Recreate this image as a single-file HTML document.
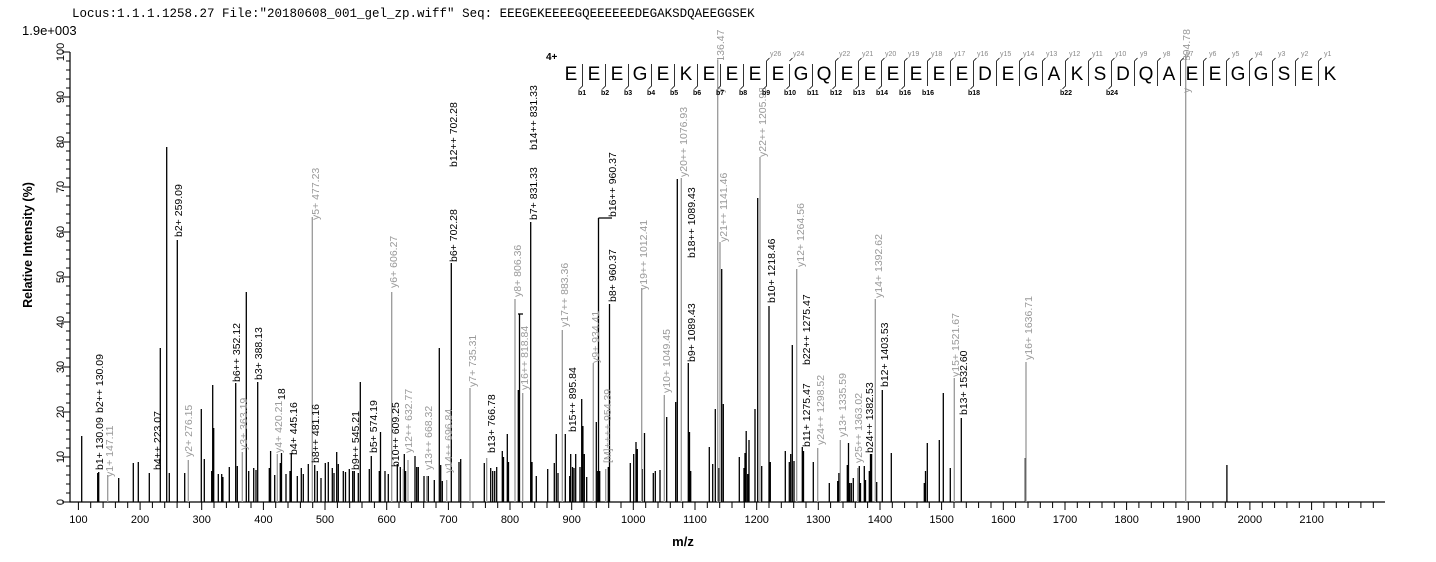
<!DOCTYPE html>
<html><head><meta charset="utf-8"><style>
html,body{margin:0;padding:0;background:#fff;}
svg{display:block;font-family:"Liberation Sans",Arial,sans-serif;}
.lb{font-size:10.5px;fill:#000}
.lg{font-size:10.5px;fill:#999}
.tk{font-size:11px;fill:#000}
.sq{font-size:19px;fill:#000}
.sm{font-size:7px;fill:#000}
.smg{font-size:7px;fill:#888}
</style></head><body>
<svg width="1436" height="562" viewBox="0 0 1436 562" xmlns="http://www.w3.org/2000/svg">
<text x="72" y="17" font-family="Liberation Mono, monospace" font-size="12.5">Locus:1.1.1.1258.27 File:"20180608_001_gel_zp.wiff"   Seq: EEEGEKEEEEGQEEEEEEDEGAKSDQAEEGGSEK</text>
<text x="22" y="35" font-size="13">1.9e+003</text>
<text transform="translate(32,245) rotate(-90)" font-size="12.5" font-weight="bold" text-anchor="middle">Relative   Intensity (%)</text>
<text x="683" y="546" font-size="13" font-weight="bold" text-anchor="middle">m/z</text>

<!-- axes -->
<path d="M70 52V502H1385" stroke="#000" stroke-width="1.2" fill="none"/>
<g stroke="#000" stroke-width="1">
<path d="M62 52H70M62 97H70M62 142H70M62 187H70M62 232H70M62 277H70M62 322H70M62 367H70M62 412H70M62 457H70M62 502H70"/>
<path d="M66 61H70M66 70H70M66 79H70M66 88H70M66 106H70M66 115H70M66 124H70M66 133H70M66 151H70M66 160H70M66 169H70M66 178H70M66 196H70M66 205H70M66 214H70M66 223H70M66 241H70M66 250H70M66 259H70M66 268H70M66 286H70M66 295H70M66 304H70M66 313H70M66 331H70M66 340H70M66 349H70M66 358H70M66 376H70M66 385H70M66 394H70M66 403H70M66 421H70M66 430H70M66 439H70M66 448H70M66 466H70M66 475H70M66 484H70M66 493H70"/>
</g>
<g class="tk" text-anchor="middle">
<text transform="translate(64,52) rotate(-90)">100</text>
<text transform="translate(64,97) rotate(-90)">90</text>
<text transform="translate(64,142) rotate(-90)">80</text>
<text transform="translate(64,187) rotate(-90)">70</text>
<text transform="translate(64,232) rotate(-90)">60</text>
<text transform="translate(64,277) rotate(-90)">50</text>
<text transform="translate(64,322) rotate(-90)">40</text>
<text transform="translate(64,367) rotate(-90)">30</text>
<text transform="translate(64,412) rotate(-90)">20</text>
<text transform="translate(64,457) rotate(-90)">10</text>
<text transform="translate(64,502) rotate(-90)">0</text>
</g>
<g id="xt"></g>
<path stroke="#000" stroke-width="1" d="M78.4 502v8M90.7 502v6M103.1 502v6M115.4 502v6M127.7 502v6M140.1 502v8M152.4 502v6M164.7 502v6M177.1 502v6M189.4 502v6M201.7 502v8M214.0 502v6M226.4 502v6M238.7 502v6M251.0 502v6M263.4 502v8M275.7 502v6M288.0 502v6M300.4 502v6M312.7 502v6M325.0 502v8M337.4 502v6M349.7 502v6M362.0 502v6M374.4 502v6M386.7 502v8M399.0 502v6M411.4 502v6M423.7 502v6M436.0 502v6M448.4 502v8M460.7 502v6M473.0 502v6M485.4 502v6M497.7 502v6M510.0 502v8M522.3 502v6M534.7 502v6M547.0 502v6M559.3 502v6M571.7 502v8M584.0 502v6M596.3 502v6M608.7 502v6M621.0 502v6M633.3 502v8M645.7 502v6M658.0 502v6M670.3 502v6M682.7 502v6M695.0 502v8M707.3 502v6M719.7 502v6M732.0 502v6M744.3 502v6M756.7 502v8M769.0 502v6M781.3 502v6M793.7 502v6M806.0 502v6M818.3 502v8M830.6 502v6M843.0 502v6M855.3 502v6M867.6 502v6M880.0 502v8M892.3 502v6M904.6 502v6M917.0 502v6M929.3 502v6M941.6 502v8M954.0 502v6M966.3 502v6M978.6 502v6M991.0 502v6M1003.3 502v8M1015.6 502v6M1028.0 502v6M1040.3 502v6M1052.6 502v6M1065.0 502v8M1077.3 502v6M1089.6 502v6M1102.0 502v6M1114.3 502v6M1126.6 502v8M1138.9 502v6M1151.3 502v6M1163.6 502v6M1175.9 502v6M1188.3 502v8M1200.6 502v6M1212.9 502v6M1225.3 502v6M1237.6 502v6M1249.9 502v8M1262.3 502v6M1274.6 502v6M1286.9 502v6M1299.3 502v6M1311.6 502v8M1323.9 502v6M1336.3 502v6M1348.6 502v6M1360.9 502v6M1373.3 502v6"/>
<g class="tk" text-anchor="middle">
<text x="78.4" y="523">100</text><text x="140.1" y="523">200</text><text x="201.7" y="523">300</text><text x="263.4" y="523">400</text><text x="325" y="523">500</text><text x="386.7" y="523">600</text><text x="448.4" y="523">700</text><text x="510" y="523">800</text><text x="571.7" y="523">900</text><text x="633.3" y="523">1000</text><text x="695" y="523">1100</text><text x="756.7" y="523">1200</text><text x="818.3" y="523">1300</text><text x="880" y="523">1400</text><text x="941.6" y="523">1500</text><text x="1003.3" y="523">1600</text><text x="1065" y="523">1700</text><text x="1126.6" y="523">1800</text><text x="1188.3" y="523">1900</text><text x="1249.9" y="523">2000</text><text x="1311.6" y="523">2100</text>
</g>

<!-- black peaks -->
<path fill="none" stroke="#000" stroke-width="1.3" d="M81.7 436V502M97.7 473V502M98.7 472V502M118.7 478V502M133.3 463V502M138.3 462V502M149.3 473V502M160.3 348V502M166.7 147V502M169.3 473V502M177.3 240V502M184.7 473V502M201.3 409V502M204.3 459V502M211.7 471V502M212.7 385V502M213.7 428V502M218.3 474V502M221.7 474V502M222.9 477V502M229.3 467V502M235.7 383V502M237.3 466V502M246.3 292V502M248.7 471V502M253.7 468V502M256 470V502M257.7 382V502M269.3 468V502M270.6 451V502M274.7 475V502M280.3 463V502M281.5 453V502M286 474V502M290 471V502M291.3 453V502M297.3 476V502M301.3 468V502M303.3 474V502M308.3 464V502M314.7 465V502M317.3 471V502M321 478V502M325.3 463V502M328.3 462V502M332.3 468V502M334 473V502M336.7 452V502M338.3 464V502M343.3 471V502M345.5 472V502M349.3 469V502M352.7 471V502M354.3 471V502M358.3 473V502M360.3 382V502M369.3 469V502M371.3 456V502M379.3 471V502M380.5 432V502M385 471V502M388.3 474V502M397.3 464V502M400.3 467V502M404.3 454V502M405.6 471V502M415 456V502M416.7 467V502M418.3 467V502M424 476V502M428.3 476V502M434.3 480V502M439.3 348V502M440.7 465V502M442.3 481V502M451.3 263V502M459 462V502M460.7 459V502M484.3 463V502M490.7 468V502M492.7 471V502M494.7 471V502M496.7 467V502M502.3 451V502M503.5 457V502M507.3 434V502M508.5 462V502M518.3 390V502M519.5 314V502M530.7 222V502M532 462V502M536.3 476V502M547.7 469V502M554.3 463V502M556.3 434V502M558 473V502M565.3 434V502M569.7 476V502M570.7 454V502M572.5 467V502M574 468V502M575.7 454V502M580 467V502M581.7 399V502M582.9 426V502M584.3 454V502M586.7 477V502M596.3 422V502M597.7 471V502M598.5 218V502M599.7 471V502M608.3 467V502M609.5 304V502M630.3 463V502M633.7 454V502M636 442V502M637.3 449V502M642.3 469V502M644.5 433V502M653.3 473V502M655.3 471V502M660 470V502M666.7 417V502M675.7 402V502M677.3 179V502M688.3 363V502M689.5 432V502M690.7 471V502M709.3 447V502M712.7 464V502M715.3 409V502M718.8 468V502M721.7 269V502M723.3 404V502M739.3 457V502M744 468V502M745 453V502M746.2 431V502M747.7 474V502M749 440V502M755 409V502M757.7 198V502M761.7 466V502M769 306V502M770.3 462V502M785.3 451V502M789.3 462V502M790.7 454V502M792.3 345V502M794 461V502M802.3 447V502M803.5 451V502M813.3 462V502M829.3 483V502M837.7 481V502M838.9 473V502M847.3 465V502M848.5 443V502M849.7 483V502M851.3 483V502M853.3 478V502M859.3 466V502M860.5 483V502M864.3 466V502M865.5 480V502M869.3 471V502M870.5 454V502M871.6 454V502M876.7 482V502M882.3 390V502M891.3 453V502M924.3 483V502M925.5 471V502M927.3 443V502M939.3 440V502M943.3 393V502M950.3 468V502M961.3 418V502M1025.3 458V502M1226.9 465V502M518 314H523M598.5 218H612"/>
<!-- grey peaks -->
<path fill="none" stroke="#999" stroke-width="1.3" d="M107.7 475V502M188.3 460V502M242.3 452V502M277.3 454V502M312.3 217V502M391.7 292V502M403.3 469V502M408 460V502M426.7 476V502M446.7 480V502M470 388V502M486.7 458V502M515 299V502M522.7 393V502M562.3 330V502M593.3 363V502M605.7 469V502M641.7 288V502M664.3 395V502M681.3 178V502M717.7 63V502M720 242V502M760 157V502M796.7 269V502M817.7 448V502M840.3 440V502M857.7 468V502M875.3 299V502M954.3 378V502M1026 362V502M1185.7 55V502"/>

<!-- peak labels -->
<g class="lb">
<text transform="translate(103,470) rotate(-90)">b1+ 130.09</text>
<text transform="translate(103,413) rotate(-90)">b2++ 130.09</text>
<text transform="translate(161,470) rotate(-90)">b4++ 223.07</text>
<text transform="translate(182,237) rotate(-90)">b2+ 259.09</text>
<text transform="translate(240,382) rotate(-90)">b6++ 352.12</text>
<text transform="translate(262,380) rotate(-90)">b3+ 388.13</text>
<text transform="translate(285,400) rotate(-90)">18</text>
<text transform="translate(297,455) rotate(-90)">b4+ 445.16</text>
<text transform="translate(319,463) rotate(-90)">b8++ 481.16</text>
<text transform="translate(359,470) rotate(-90)">b9++ 545.21</text>
<text transform="translate(377,453) rotate(-90)">b5+ 574.19</text>
<text transform="translate(399,467) rotate(-90)">b10++ 609.25</text>
<text transform="translate(457,262) rotate(-90)">b6+ 702.28</text>
<text transform="translate(457,167) rotate(-90)">b12++ 702.28</text>
<text transform="translate(495,453) rotate(-90)">b13+ 766.78</text>
<text transform="translate(537,220) rotate(-90)">b7+ 831.33</text>
<text transform="translate(537,150) rotate(-90)">b14++ 831.33</text>
<text transform="translate(576,432) rotate(-90)">b15++ 895.84</text>
<text transform="translate(616,302) rotate(-90)">b8+ 960.37</text>
<text transform="translate(616,217) rotate(-90)">b16++ 960.37</text>
<text transform="translate(695,362) rotate(-90)">b9+ 1089.43</text>
<text transform="translate(695,258) rotate(-90)">b18++ 1089.43</text>
<text transform="translate(775,303) rotate(-90)">b10+ 1218.46</text>
<text transform="translate(810,447) rotate(-90)">b11+ 1275.47</text>
<text transform="translate(810,365) rotate(-90)">b22++ 1275.47</text>
<text transform="translate(873,453) rotate(-90)">b24++ 1382.53</text>
<text transform="translate(888,387) rotate(-90)">b12+ 1403.53</text>
<text transform="translate(967,415) rotate(-90)">b13+ 1532.60</text>
</g>
<g class="lg">
<text transform="translate(113,477) rotate(-90)">y1+ 147.11</text>
<text transform="translate(192,457) rotate(-90)">y2+ 276.15</text>
<text transform="translate(247,450) rotate(-90)">y3+ 363.19</text>
<text transform="translate(282,453) rotate(-90)">y4+ 420.21</text>
<text transform="translate(319,220) rotate(-90)">y5+ 477.23</text>
<text transform="translate(397,288) rotate(-90)">y6+ 606.27</text>
<text transform="translate(412,453) rotate(-90)">y12++ 632.77</text>
<text transform="translate(432,470) rotate(-90)">y13++ 668.32</text>
<text transform="translate(452,473) rotate(-90)">y14++ 696.84</text>
<text transform="translate(476,387) rotate(-90)">y7+ 735.31</text>
<text transform="translate(521,297) rotate(-90)">y8+ 806.36</text>
<text transform="translate(528,390) rotate(-90)">y16++ 818.84</text>
<text transform="translate(568,327) rotate(-90)">y17++ 883.36</text>
<text transform="translate(599,363) rotate(-90)">y9+ 934.41</text>
<text transform="translate(611,463) rotate(-90)">[M]++++ 954.39</text>
<text transform="translate(647,290) rotate(-90)">y19++ 1012.41</text>
<text transform="translate(670,393) rotate(-90)">y10+ 1049.45</text>
<text transform="translate(687,177) rotate(-90)">y20++ 1076.93</text>
<text transform="translate(724,93) rotate(-90)">y7++ 1136.47</text>
<text transform="translate(727,242) rotate(-90)">y21++ 1141.46</text>
<text transform="translate(766,157) rotate(-90)">y22++ 1205.98</text>
<text transform="translate(804,267) rotate(-90)">y12+ 1264.56</text>
<text transform="translate(824,445) rotate(-90)">y24++ 1298.52</text>
<text transform="translate(846,437) rotate(-90)">y13+ 1335.59</text>
<text transform="translate(862,463) rotate(-90)">y25++ 1363.02</text>
<text transform="translate(882,298) rotate(-90)">y14+ 1392.62</text>
<text transform="translate(959,377) rotate(-90)">y15+ 1521.67</text>
<text transform="translate(1032,360) rotate(-90)">y16+ 1636.71</text>
<text transform="translate(1190,93) rotate(-90)">y15+ 1894.78</text>
</g>

<!-- sequence annotation -->
<rect x="555" y="60" width="790" height="28" fill="#fff"/>
<text x="546" y="60" font-size="10" font-weight="bold">4+</text>
<g class="sq" text-anchor="middle">
<text x="571" y="80">E</text><text x="594" y="80">E</text><text x="617" y="80">E</text><text x="640" y="80">G</text><text x="663" y="80">E</text><text x="686" y="80">K</text><text x="709" y="80">E</text><text x="732" y="80">E</text><text x="755" y="80">E</text><text x="778" y="80">E</text><text x="801" y="80">G</text><text x="824" y="80">Q</text><text x="847" y="80">E</text><text x="870" y="80">E</text><text x="893" y="80">E</text><text x="916" y="80">E</text><text x="939" y="80">E</text><text x="962" y="80">E</text><text x="985" y="80">D</text><text x="1008" y="80">E</text><text x="1031" y="80">G</text><text x="1054" y="80">A</text><text x="1077" y="80">K</text><text x="1100" y="80">S</text><text x="1123" y="80">D</text><text x="1146" y="80">Q</text><text x="1169" y="80">A</text><text x="1192" y="80">E</text><text x="1215" y="80">E</text><text x="1238" y="80">G</text><text x="1261" y="80">G</text><text x="1284" y="80">S</text><text x="1307" y="80">E</text><text x="1330" y="80">K</text>
</g>
<path fill="none" stroke="#000" stroke-width="0.8" d="M582.5 64v22l-3 3M605.5 64v22l-3 3M628.5 64v22l-3 3M651.5 64v22l-3 3M674.5 64v22l-3 3M697.5 64v22l-3 3M720.5 64v22l-3 3M743.5 64v22l-3 3M766.5 61l3 -3M766.5 61v25l-3 3M789.5 64v22l-3 3M789.5 61l3-3M812.5 64v22l-3 3M835.5 61l3-3M835.5 61v25l-3 3M858.5 61l3-3M858.5 61v25l-3 3M881.5 61l3-3M881.5 61v25l-3 3M904.5 61l3-3M904.5 61v25l-3 3M927.5 61l3-3M927.5 61v25M950.5 61l3-3M950.5 61v25M973.5 61l3-3M973.5 61v25l-3 3M996.5 61l3-3M996.5 61v25M1019.5 61l3-3M1019.5 61v25M1042.5 61l3-3M1042.5 61v25M1065.5 61l3-3M1065.5 61v25l-3 3M1088.5 61l3-3M1088.5 61v25M1111.5 61l3-3M1111.5 61v25l-3 3M1134.5 61l3-3M1134.5 61v25M1157.5 61l3-3M1157.5 61v25M1180.5 61l3-3M1180.5 61v25M1203.5 61l3-3M1203.5 61v25M1226.5 61l3-3M1226.5 61v25M1249.5 61l3-3M1249.5 61v25M1272.5 61l3-3M1272.5 61v25M1295.5 61l3-3M1295.5 61v25M1318.5 61l3-3M1318.5 61v25"/>
<g class="sm" font-weight="bold">
<text x="578" y="95">b1</text><text x="601" y="95">b2</text><text x="624" y="95">b3</text><text x="647" y="95">b4</text><text x="670" y="95">b5</text><text x="693" y="95">b6</text><text x="716" y="95">b7</text><text x="739" y="95">b8</text><text x="762" y="95">b9</text><text x="784" y="95">b10</text><text x="807" y="95">b11</text><text x="830" y="95">b12</text><text x="853" y="95">b13</text><text x="876" y="95">b14</text><text x="899" y="95">b16</text><text x="922" y="95">b16</text><text x="968" y="95">b18</text><text x="1060" y="95">b22</text><text x="1106" y="95">b24</text>
</g>
<g class="smg">
<text x="770" y="56">y26</text><text x="793" y="56">y24</text><text x="839" y="56">y22</text><text x="862" y="56">y21</text><text x="885" y="56">y20</text><text x="908" y="56">y19</text><text x="931" y="56">y18</text><text x="954" y="56">y17</text><text x="977" y="56">y16</text><text x="1000" y="56">y15</text><text x="1023" y="56">y14</text><text x="1046" y="56">y13</text><text x="1069" y="56">y12</text><text x="1092" y="56">y11</text><text x="1115" y="56">y10</text><text x="1140" y="56">y9</text><text x="1163" y="56">y8</text><text x="1186" y="56">y7</text><text x="1209" y="56">y6</text><text x="1232" y="56">y5</text><text x="1255" y="56">y4</text><text x="1278" y="56">y3</text><text x="1301" y="56">y2</text><text x="1324" y="56">y1</text>
</g>
<path stroke="#999" stroke-width="1.3" d="M717.7 60V90M1185.7 55V90"/>
</svg>
</body></html>
